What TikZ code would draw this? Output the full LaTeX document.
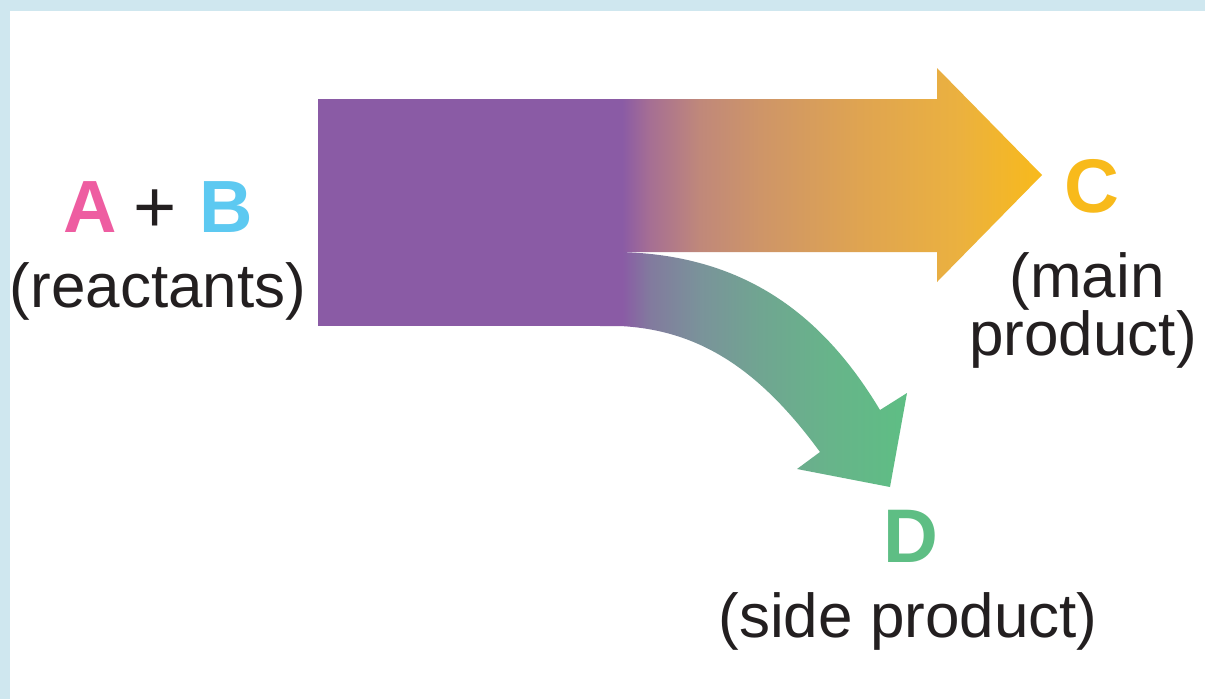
\documentclass[tikz,border=0pt]{standalone}
\usepackage{fontspec}
\setmainfont{Liberation Sans}
\definecolor{bgblue}{HTML}{CFE7EF}
\definecolor{purp}{HTML}{8A5BA5}
\definecolor{txt}{HTML}{231F20}
\definecolor{colA}{HTML}{EE5DA1}
\definecolor{colB}{HTML}{5DC9F1}
\definecolor{colC}{HTML}{F8BA1B}
\definecolor{colD}{HTML}{5EBE84}
\definecolor{m1}{HTML}{A66F93}
\definecolor{m2}{HTML}{C0887A}
\definecolor{m3}{HTML}{CE9568}
\definecolor{m4}{HTML}{DFA451}
\definecolor{m5}{HTML}{EBB13F}
\definecolor{g1}{HTML}{827A9E}
\definecolor{g2}{HTML}{7A939A}
\definecolor{g3}{HTML}{70A591}
\definecolor{g4}{HTML}{67B48A}
\pgfdeclarehorizontalshading{mainsh}{100bp}{color(0bp)=(purp); color(27.5bp)=(purp); color(30.7bp)=(m1); color(36.3bp)=(m2); color(43.1bp)=(m3); color(54.4bp)=(m4); color(65.7bp)=(m5); color(75bp)=(colC); color(100bp)=(colC)}
\pgfdeclarehorizontalshading{sidesh}{100bp}{color(0bp)=(purp); color(28.6bp)=(purp); color(33.1bp)=(g1); color(41.3bp)=(g2); color(51.1bp)=(g3); color(62.5bp)=(g4); color(75bp)=(colD); color(100bp)=(colD)}
\tikzset{
  lbl/.style={anchor=base, inner sep=0pt, text=txt, font=\fontsize{62}{70}\selectfont},
  letter/.style={anchor=base, inner sep=0pt, font=\fontsize{76}{80}\selectfont\bfseries},
}
\begin{document}
\begin{tikzpicture}[x=1pt,y=-1pt]
\useasboundingbox (0,0) rectangle (1205,699);
\fill[bgblue] (0,0) rectangle (1205,699);
\fill[white] (10,11) rectangle (1205,699);
% main arrow to C
\shade[shading=mainsh] (600,99) -- (937,99) -- (937,68) -- (1042,175) -- (937,282) -- (937,252) -- (600,252) -- cycle;
% side arrow to D
\shade[shading=sidesh] (600,252) -- (620,252) .. controls (740,255) and (820,310) .. (880,410)
  -- (907,393) -- (890,487) -- (797,469) -- (820,452)
  .. controls (760,370) and (700,330) .. (620,326) -- (600,326) -- cycle;
% reactant block
\fill[purp] (318,99) rectangle (622,326);
% labels
\node[lbl, font=\fontsize{74}{80}\selectfont] (ab) at (158,232) {\textcolor{colA}{\bfseries A}\hspace{17pt}+\hspace{22pt}\textcolor{colB}{\bfseries B}};
\node[lbl, font=\fontsize{62}{70}\selectfont] (react) at (158,307) {(reactants)};
\node[letter, text=colC] (c) at (1092,212) {C};
\node[lbl] (main1) at (1087,297) {(main};
\node[lbl] (main2) at (1083,355) {product)};
\node[letter, text=colD] (d) at (911,562) {D};
\node[lbl] (side) at (908,637) {(side product)};
\end{tikzpicture}
\end{document}
